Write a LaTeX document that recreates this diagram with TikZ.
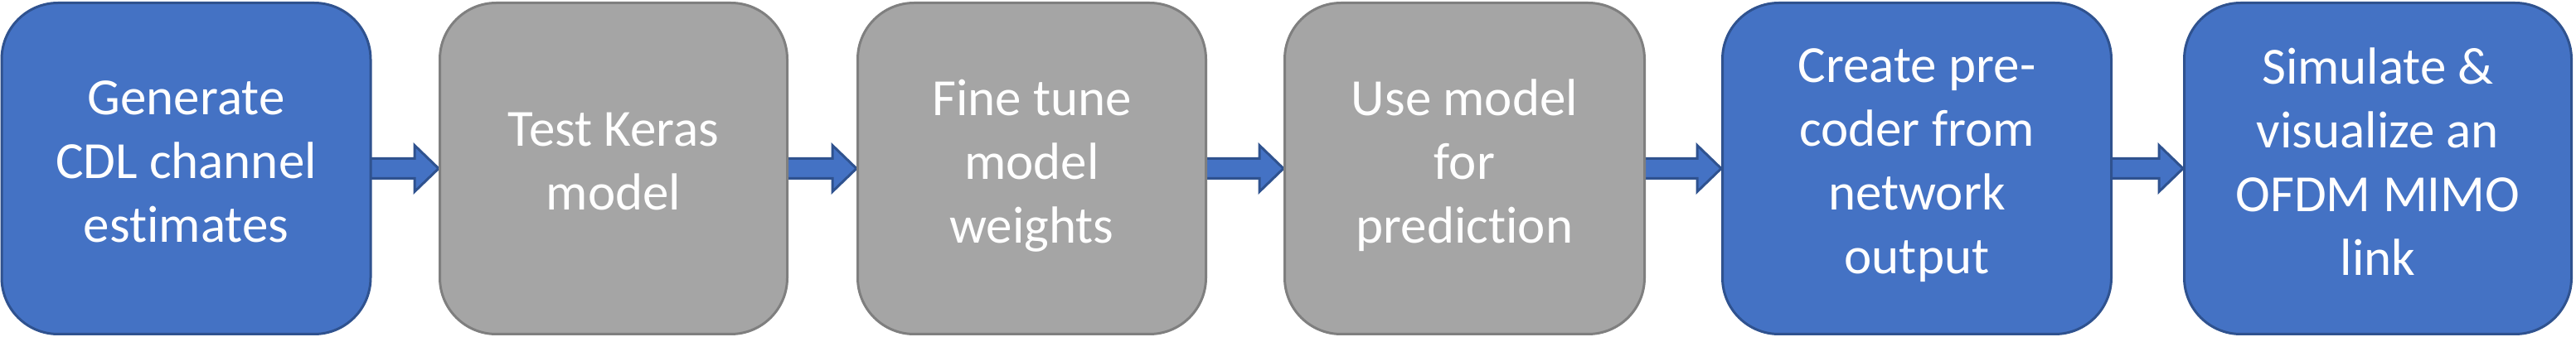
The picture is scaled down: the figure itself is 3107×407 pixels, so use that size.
\documentclass[tikz,border=0pt]{standalone}
\usepackage{fontspec}
\setmainfont{Carlito}[Ligatures=NoCommon]
\usetikzlibrary{calc,backgrounds}
\definecolor{bfill}{HTML}{4472C4}
\definecolor{bline}{HTML}{2F528F}
\definecolor{gfill}{HTML}{A5A5A5}
\definecolor{gline}{HTML}{7F7F7F}
\newcommand\mystrut{\rule[-8.47pt]{0pt}{38.5pt}}
\newcommand\flowarrow[2]{%
  \draw[arrowbody] ($(#1.east)+(-2,12)$) -- ($(#2.west)+(-29,12)$) -- ($(#2.west)+(-29,28)$)
    -- (#2.west) -- ($(#2.west)+(-29,-28)$) -- ($(#2.west)+(-29,-12)$) -- ($(#1.east)+(-2,-12)$) -- cycle;}
\tikzset{
  stepbox/.style={rounded corners=34pt, line width=1.5pt, minimum height=200pt, inner sep=0pt,
    align=center, text=white, font=\fontsize{31.5}{38.5}\selectfont,
    execute at begin node=\mystrut, execute at end node=\mystrut},
  bluebox/.style={stepbox, draw=bline, fill=bfill},
  graybox/.style={stepbox, draw=gline, fill=gfill},
  arrowbody/.style={draw=bline, fill=bfill, line width=1.5pt}
}
\begin{document}
\begin{tikzpicture}[x=0.5pt, y=0.5pt]
\useasboundingbox (0,0) rectangle (3107,407);
\node[bluebox, minimum width=222.5pt] (b1) at (224.5,203.5) {Generate\\CDL channel\\estimates};
\node[graybox, minimum width=209.5pt] (b2) at (740,203.5) {Test Keras\\model};
\node[graybox, minimum width=210pt] (b3) at (1244.5,203.5) {Fine tune\\model\\weights};
\node[graybox, minimum width=217pt] (b4) at (1766.5,203.5) {Use model\\for\\prediction};
\node[bluebox, minimum width=234.5pt] (b5) at (2312,203.5) {Create pre-\\coder from\\network\\output};
\node[bluebox, minimum width=233.5pt] (b6) at (2868,203.5) {Simulate \&\\visualize an\\OFDM MIMO\\link};
\begin{scope}[on background layer]
\flowarrow{b1}{b2}
\flowarrow{b2}{b3}
\flowarrow{b3}{b4}
\flowarrow{b4}{b5}
\flowarrow{b5}{b6}
\end{scope}
\end{tikzpicture}
\end{document}
